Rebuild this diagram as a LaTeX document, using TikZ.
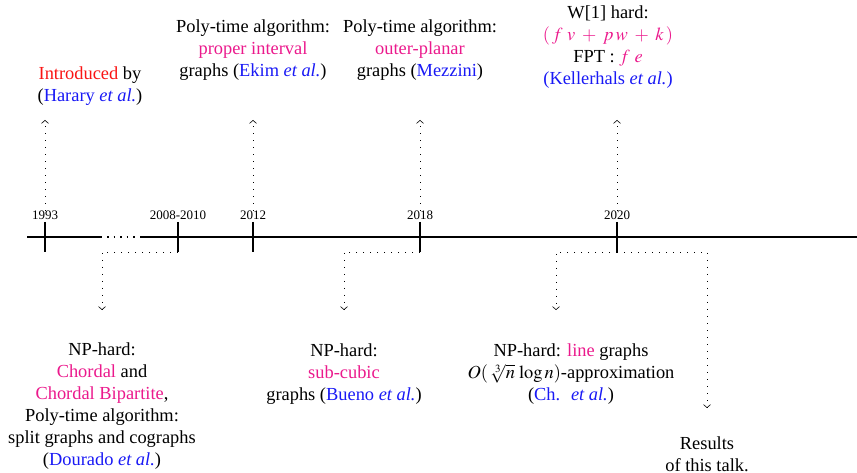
\documentclass[tikz,border=0pt]{standalone}
\usepackage{mathptmx}
\usepackage{fontspec}
\setmainfont{Liberation Serif}
\usetikzlibrary{arrows.meta}
\definecolor{pinkc}{RGB}{235,25,140}
\definecolor{bluec}{RGB}{25,25,245}
\definecolor{redc}{RGB}{250,20,20}
\begin{document}
\begin{tikzpicture}[x=1pt,y=-1pt,
  txt/.style={align=center,font=\fontsize{18.4}{22}\selectfont,inner sep=0pt},
  yr/.style={font=\fontsize{13}{14}\selectfont,inner sep=0pt},
  axis/.style={line width=1.6pt},
  conn/.style={line width=0.8pt,dash pattern=on 0.8pt off 6.2pt,-{Straight Barb[length=3pt,width=7pt,line width=0.6pt]}},
  dl/.style={line width=0.8pt,dash pattern=on 0.8pt off 6.2pt}]
\useasboundingbox (0,0) rectangle (857,473);
% axis
\draw[axis] (27,237) -- (102,237);
\draw[axis,dash pattern=on 1.5pt off 5pt] (107,237) -- (137,237);
\draw[axis] (140,237) -- (857,237);
% ticks
\foreach \n/\x in {t1/45,t2/178,t3/253,t4/420,t5/617}{
  \coordinate (\n top) at (\x,222);
  \coordinate (\n bot) at (\x,252);
  \draw[axis] (\n top) -- (\n bot);
}
% year labels
\node[yr] (y1) at (45,215) {1993};
\node[yr] (y2) at (178,215) {2008-2010};
\node[yr] (y3) at (253,215) {2012};
\node[yr] (y4) at (420,215) {2018};
\node[yr] (y5) at (617,215) {2020};
% top texts
\node[txt] (A) at (90,86) {\textcolor{redc}{Introduced} by\\(\textcolor{bluec}{Harary \textit{et al.}})};
\node[txt] (B) at (253,50) {Poly-time algorithm:\\\textcolor{pinkc}{proper interval}\\graphs (\textcolor{bluec}{Ekim \textit{et al.}})};
\node[txt] (C) at (420,50) {Poly-time algorithm:\\\textcolor{pinkc}{outer-planar}\\graphs (\textcolor{bluec}{Mezzini})};
\node[txt] (D) at (608,47) {W[1] hard:\\\textcolor{pinkc}{$(\,f\ v \;+\; p\,w \;+\; k\,)$}\\FPT : \textcolor{pinkc}{$f\ e$}\\\textcolor{bluec}{(Kellerhals \textit{et al.})}};
% bottom texts
\node[txt] (E) at (102,406) {NP-hard:\\\textcolor{pinkc}{Chordal} and\\\textcolor{pinkc}{Chordal Bipartite},\\Poly-time algorithm:\\split graphs and cographs\\(\textcolor{bluec}{Dourado \textit{et al.}})};
\node[txt] (F) at (344,374) {NP-hard:\\\textcolor{pinkc}{sub-cubic}\\graphs (\textcolor{bluec}{Bueno \textit{et al.}})};
\node[txt] (G) at (571,374) {NP-hard: \textcolor{pinkc}{line} graphs\\$O(\,\sqrt[3]{n}\,\log n)$-approximation\\(\textcolor{bluec}{Ch. \ \textit{et al.}})};
\node[txt] (H) at (707,454) {Results\\of this talk.};
% free ends
\coordinate (a1) at (45,120);
\coordinate (a3) at (253,120);
\coordinate (a4) at (420,120);
\coordinate (a5) at (617,120);
\coordinate (b2) at (102,310);
\coordinate (b4) at (344,310);
\coordinate (b5) at (556,310);
\coordinate (b6) at (707,408);
% up connectors
\draw[conn] (y1.north) -- (a1);
\draw[conn] (y3.north) -- (a3);
\draw[conn] (y4.north) -- (a4);
\draw[conn] (y5.north) -- (a5);
% down connectors
\draw[conn] (t2bot) -| (b2);
\draw[conn] (t4bot) -| (b4);
\draw[conn] (t5bot) -| (b5);
\draw[conn] (t5bot) -| (b6);
\end{tikzpicture}
\end{document}
